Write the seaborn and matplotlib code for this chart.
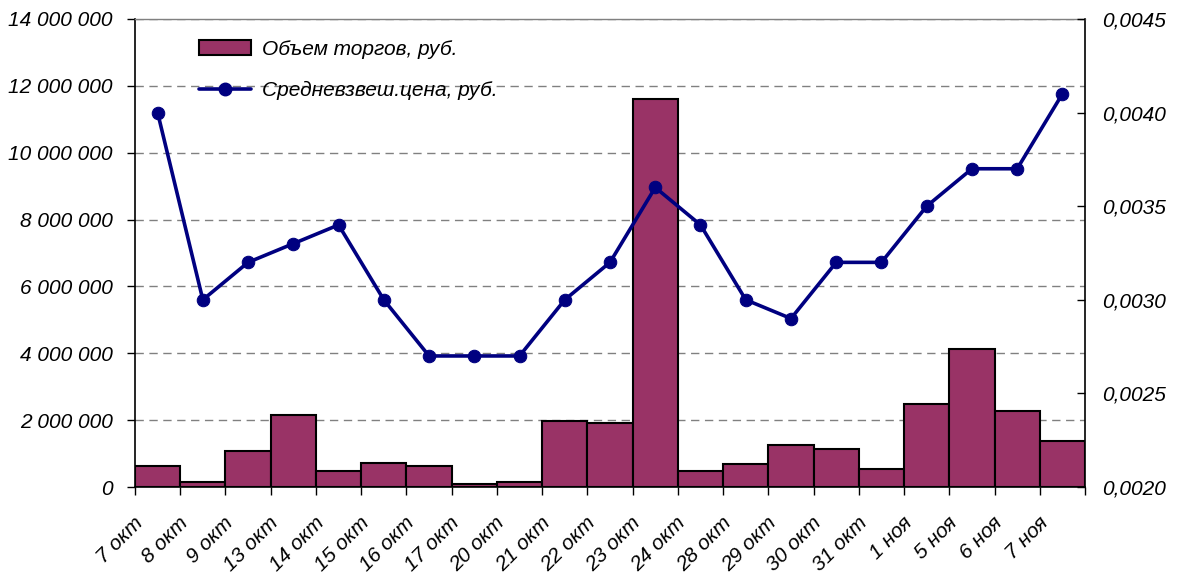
import numpy as np
import matplotlib
matplotlib.use("Agg")
import matplotlib.pyplot as plt
from matplotlib.ticker import FuncFormatter, FixedLocator
import pandas as pd
import seaborn as sns

# Trading data
dates = ["7 окт", "8 окт", "9 окт", "13 окт", "14 окт", "15 окт", "16 окт",
         "17 окт", "20 окт", "21 окт", "22 окт", "23 окт", "24 окт", "28 окт",
         "29 окт", "30 окт", "31 окт", "1 ноя", "5 ноя", "6 ноя", "7 ноя"]
volume = [630000, 150000, 1090000, 2160000, 480000, 730000, 630000,
          90000, 140000, 1980000, 1920000, 11600000, 480000, 680000,
          1260000, 1150000, 550000, 2470000, 4140000, 2280000, 1380000]
price = [0.0040, 0.0030, 0.0032, 0.0033, 0.0034, 0.0030, 0.0027,
         0.0027, 0.0027, 0.0030, 0.0032, 0.0036, 0.0034, 0.0030,
         0.0029, 0.0032, 0.0032, 0.0035, 0.0037, 0.0037, 0.0041]

vol_label = "Объем торгов, руб."
price_label = "Средневзвеш.цена, руб."

df = pd.DataFrame({"date": dates, "volume": volume, "price": price})
df["pos"] = np.arange(len(df))

sns.set_style("white")
plt.rcParams["font.family"] = ["Liberation Sans", "DejaVu Sans"]
plt.rcParams["font.style"] = "italic"
plt.rcParams["text.color"] = "black"
plt.rcParams["xtick.color"] = "black"
plt.rcParams["ytick.color"] = "black"
FS = 15

fig = plt.figure(figsize=(11.83, 5.72), dpi=100)
ax = fig.add_axes([0.1141, 0.1486, 0.8031, 0.8182])

sns.barplot(data=df, x="pos", y="volume", color="#993366", width=1.0,
            edgecolor="black", linewidth=1.5, saturation=1, ax=ax, zorder=2,
            native_scale=True)
ax.set_ylim(0, 14000000)
ax.set_yticks(np.arange(0, 14000001, 2000000))
ax.yaxis.set_major_formatter(FuncFormatter(lambda v, p: f"{int(v):,}".replace(",", " ")))
ax.grid(axis="y", color="#808080", linestyle=(0, (6, 4)), linewidth=1.0, zorder=0)
ax.set_axisbelow(True)

n = len(df)
ax.set_xlim(-0.5, n - 0.5)
bounds = np.arange(n + 1) - 0.5
# tick marks at category boundaries, labels hang just right of each left boundary
ax.xaxis.set_minor_locator(FixedLocator(bounds))
ax.set_xticks(bounds[:-1] + 0.11)
ax.set_xticklabels(dates, rotation=45, ha="right", rotation_mode="anchor",
                   va="center", fontsize=FS, fontstyle="italic", color="black")
ax.tick_params(axis="x", which="minor", length=6, width=1, direction="out",
               color="black", bottom=True)
ax.tick_params(axis="x", which="major", length=0, pad=24)
ax.tick_params(axis="y", length=6, width=1, direction="out", color="black",
               labelsize=FS, pad=10, labelcolor="black")
ax.set_xlabel("")
ax.set_ylabel("")
for s in ["left", "bottom", "right"]:
    ax.spines[s].set_color("black")
    ax.spines[s].set_linewidth(1.2)
ax.spines["top"].set_color("#808080")
ax.spines["top"].set_linewidth(1.0)

ax2 = ax.twinx()
sns.lineplot(data=df, x="pos", y="price", color="#000080", linewidth=2.6,
             marker="o", markersize=9, markeredgecolor="#000080", ax=ax2, zorder=3)
ax2.set_ylim(0.0020, 0.0045)
ax2.set_yticks(np.arange(0.0020, 0.00451, 0.0005))
ax2.yaxis.set_major_formatter(FuncFormatter(lambda v, p: f"{v:.4f}".replace(".", ",")))
ax2.tick_params(axis="y", length=6, width=1, direction="in", color="black",
                labelsize=FS, pad=12, labelcolor="black")
ax2.set_xlim(-0.5, n - 0.5)
ax2.set_ylabel("")
ax2.set_xlabel("")
for s in ax2.spines.values():
    s.set_visible(False)

bar_handle = plt.Rectangle((0, 0), 1, 1, facecolor="#993366", edgecolor="black", linewidth=1.5)
line_handle = plt.Line2D([], [], color="#000080", linewidth=2.6, marker="o", markersize=9)
ax2.legend([bar_handle, line_handle], [vol_label, price_label], loc="upper left",
           bbox_to_anchor=(0.048, 0.995), frameon=False, fontsize=FS,
           handlelength=2.5, labelspacing=1.05, handletextpad=0.5)

fig.savefig("out.png", dpi=100)
